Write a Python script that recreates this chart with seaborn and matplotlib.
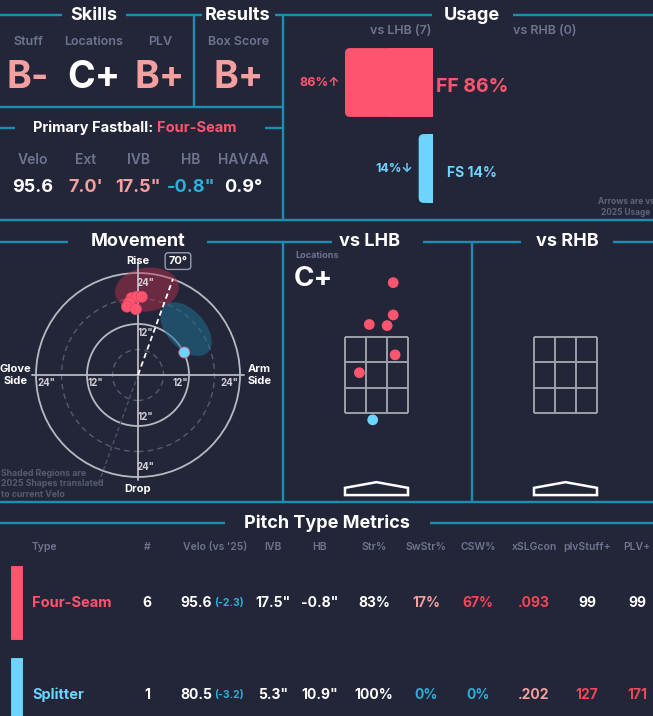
import numpy as np
import pandas as pd
import matplotlib
matplotlib.use("Agg")
import matplotlib.pyplot as plt
import seaborn as sns
from matplotlib.patches import Ellipse, Rectangle, Polygon, Circle, FancyBboxPatch

# ---- data ----
skill_labels = ["Stuff", "Locations", "PLV"]
skill_grades = ["B-", "C+", "B+"]
result_label = "Box Score"
result_grade = "B+"

fb_name = "Four-Seam"
fb_labels = ["Velo", "Ext", "IVB", "HB", "HAVAA"]
fb_values = ["95.6", "7.0'", '17.5"', '-0.8"', "0.9°"]

usage_pitches = ["FF", "FS"]
usage_lhb = [86, 14]
usage_arrows = ["↑", "↓"]
n_lhb, n_rhb = 7, 0

ff_hb = [-1.5, -0.3, 0.9, -2.1, -2.6, -0.5]
ff_ivb = [18.1, 18.4, 18.4, 17.0, 16.1, 15.5]
fs_hb = [10.9]
fs_ivb = [5.3]
arm_angle = 70

# 2025 shapes (ellipses) per pitch: center, width, height, angle
shape_hb = [2.1, 11.3]
shape_ivb = [20.1, 10.8]
shape_w = [15.1, 15.0]
shape_h = [10.3, 9.0]
shape_angle = [8, -48]

loc_pitch = ["FF"] * 6 + ["FS"]
loc_x = [0.44, 0.44, -0.19, 0.28, 0.49, -0.45, -0.10]
loc_z = [4.93, 4.08, 3.83, 3.80, 3.03, 2.56, 1.32]
location_grade = "C+"

table_cols = ["Type", "#", "Velo (vs '25)", "IVB", "HB", "Str%", "SwStr%",
              "CSW%", "xSLGcon", "plvStuff+", "PLV+"]
table_names = ["Four-Seam", "Splitter"]
table_count = ["6", "1"]
table_velo = ["95.6", "80.5"]
table_velo_diff = ["(-2.3)", "(-3.2)"]
table_ivb = ['17.5"', '5.3"']
table_hb = ['-0.8"', '10.9"']
table_str = ["83%", "100%"]
table_swstr = ["17%", "0%"]
table_csw = ["67%", "0%"]
table_xslg = [".093", ".202"]
table_stuff = ["99", "127"]
table_plv = ["99", "171"]

# ---- style ----
BG = "#232638"
TEAL = "#1a8fb3"
WHITE = "#ffffff"
GRAY = "#6f7590"
RED = "#ff5470"
CYAN = "#6dd3ff"
DCYAN = "#2bb0d6"
LPINK = "#f5a0a0"
BRED = "#f2475a"
LINEGRAY = "#b8b9c2"
pitch_colors = {"FF": RED, "FS": CYAN}

sns.set_theme(style="white")
plt.rcParams['font.family'] = ['Inter', 'DejaVu Sans']
plt.rcParams['axes.facecolor'] = BG

W, H = 653, 716
fig = plt.figure(figsize=(W / 100, H / 100), dpi=100, facecolor=BG)
bg = fig.add_axes([0, 0, 1, 1])
bg.set_xlim(0, W)
bg.set_ylim(H, 0)
bg.axis('off')


def px_axes(x0, y0, x1, y1):
    ax = fig.add_axes([x0 / W, 1 - y1 / H, (x1 - x0) / W, (y1 - y0) / H])
    ax.set_facecolor('none')
    ax.axis('off')
    return ax


def hline(y, x0, x1):
    bg.plot([x0, x1], [y, y], color=TEAL, lw=1.7, solid_capstyle='butt')


def vline(x, y0, y1):
    bg.plot([x, x], [y0, y1], color=TEAL, lw=1.7, solid_capstyle='butt')


def title(txt, x, y, size=13):
    bg.text(x, y, txt, color=WHITE, fontsize=size, fontweight='bold',
            ha='center', va='center')


# ---- frame lines ----
hline(15, 0, 62); hline(15, 126, 202); hline(15, 275, 432); hline(15, 513, W)
vline(194, 15, 107); vline(283, 15, 220)
hline(107, 0, 283)
hline(128, 0, 15); hline(128, 265, 283)
hline(220, 0, W)
hline(242, 0, 68); hline(242, 207, 332); hline(242, 423, 521); hline(242, 613, W)
vline(283, 242, 502); vline(472, 242, 502)
hline(502, 0, W)
hline(523, 0, 225); hline(523, 430, W)

title("Skills", 94, 15)
title("Results", 238, 15)
title("Usage", 472, 15)
title("Movement", 138, 242)
title("vs LHB", 370, 242)
title("vs RHB", 567, 242)
title("Pitch Type Metrics", 327, 523)

# ---- skills ----
for x, lab, g in zip([28, 94, 160], skill_labels, skill_grades):
    bg.text(x, 42, lab, color=GRAY, fontsize=9, fontweight='semibold', ha='center', va='center')
    bg.text(x, 78, g, color=WHITE if g.startswith("C") else LPINK, fontsize=27,
            fontweight='bold', ha='center', va='center')
bg.text(239, 42, result_label, color=GRAY, fontsize=9, fontweight='semibold', ha='center', va='center')
bg.text(239, 78, result_grade, color=LPINK, fontsize=27, fontweight='bold', ha='center', va='center')

# ---- primary fastball ----
bg.text(153, 128, "Primary Fastball:", color=WHITE, fontsize=10.5, fontweight='bold', ha='right', va='center')
bg.text(157, 128, fb_name, color=RED, fontsize=10.5, fontweight='bold', ha='left', va='center')
fb_colors = [WHITE, LPINK, LPINK, DCYAN, WHITE]
for x, lab, v, c in zip([33, 86, 138, 191, 243], fb_labels, fb_values, fb_colors):
    bg.text(x, 160, lab, color=GRAY, fontsize=10, fontweight='semibold', ha='center', va='center')
    bg.text(x, 188, v, color=c, fontsize=13, fontweight='bold', ha='center', va='center')

# ---- usage ----
usage_df = pd.DataFrame({"pitch": usage_pitches, "usage": usage_lhb})
ax_u = px_axes(290, 30, 433, 215)
sns.barplot(data=usage_df, x="usage", y="pitch", hue="pitch", palette=pitch_colors,
            orient="h", width=0.8, saturation=1, legend=False, ax=ax_u)
XS, YS = 1.0233, 86.0  # px per data unit
ax_u.set_xlim((433 - 290) / XS, 0)
ax_u.set_ylim((215 - 82.5) / YS, (30 - 82.5) / YS)
ax_u.axis('off')
# round the outer (left) corners of the bars
for bar in list(ax_u.patches):
    x0, y0, w, h = bar.get_x(), bar.get_y(), bar.get_width(), bar.get_height()
    fc = bar.get_facecolor()
    bar.remove()
    ax_u.add_patch(FancyBboxPatch((x0, y0), w, h, boxstyle="round,pad=0,rounding_size=%.2f" % (5 / XS),
                                  mutation_aspect=XS / YS, fc=fc, ec='none'))
    ax_u.add_patch(Rectangle((x0, y0), w / 2, h, fc=fc, ec='none'))
label_sizes = [14, 10]
for i, (p, u, a) in enumerate(zip(usage_pitches, usage_lhb, usage_arrows)):
    c = pitch_colors[p]
    ax_u.text(u + 5, i, f"{u}%{a}", color=c, fontsize=9, fontweight='bold',
              ha='right', va='center', clip_on=False)
    ax_u.text(-38, i + 0.05, f"{p} {u}%", color=c, fontsize=label_sizes[i],
              fontweight='bold', ha='center', va='center', clip_on=False)
bg.text(401, 31, f"vs LHB ({n_lhb})", color=GRAY, fontsize=9, fontweight='semibold', ha='center', va='center')
bg.text(545, 31, f"vs RHB ({n_rhb})", color=GRAY, fontsize=9, fontweight='semibold', ha='center', va='center')
bg.text(626, 207, "Arrows are vs\n2025 Usage", color="#5f6478", fontsize=6, fontweight='bold',
        ha='center', va='center', multialignment='center', linespacing=1.3)

# ---- movement ----
S = 4.25
ax_m = px_axes(0, 250, 283, 500)
ax_m.set_xlim(-138 / S, (283 - 138) / S)
ax_m.set_ylim(-125 / S, 125 / S)
for r, solid in [(6, False), (12, True), (18, False), (24, True)]:
    ax_m.add_patch(Circle((0, 0), r, fill=False, lw=1.3 if solid else 1.0,
                          ec=LINEGRAY if solid else "#575b6e", ls='-' if solid else (0, (4, 3))))
ax_m.plot([-25, 25], [0, 0], color=LINEGRAY, lw=1.3)
ax_m.plot([0, 0], [-24.8, 26.5], color=LINEGRAY, lw=1.3)
for i, p in enumerate(usage_pitches):
    ax_m.add_patch(Ellipse((shape_hb[i], shape_ivb[i]), shape_w[i], shape_h[i], angle=shape_angle[i],
                           fc=["#c0304f", "#1e6f8f"][i], alpha=[0.45, 0.55][i], ec='none', zorder=1))
ang = np.radians(arm_angle)
ax_m.plot([0, 24 * np.cos(ang)], [0, 24 * np.sin(ang)], color=WHITE, lw=1.3, ls=(0, (3, 2)), zorder=3)
ax_m.plot([0, -27 * np.cos(ang)], [0, -27 * np.sin(ang)], color="#4f5366", lw=1.0, ls=(0, (3, 2)), zorder=1)
ax_m.text(9.4, 26.8, f"{arm_angle}°", color=WHITE, fontsize=8, fontweight='bold', ha='center', va='center',
          bbox=dict(boxstyle="round,pad=0.3,rounding_size=0.3", fc=BG, ec="#9a9cab", lw=1.0))
mv = pd.DataFrame({"hb": ff_hb + fs_hb, "ivb": ff_ivb + fs_ivb,
                   "pitch": ["FF"] * len(ff_hb) + ["FS"] * len(fs_hb)})
sns.scatterplot(data=mv, x="hb", y="ivb", hue="pitch", palette=pitch_colors, s=65,
                edgecolor="#d9455f", linewidth=0.5, legend=False, ax=ax_m, zorder=4)
ax_m.axis('off')
for v in [12, 24]:
    vv = 10 if v == 12 else 21.6
    for sgn in [-1, 1]:
        ax_m.text(sgn * vv, -2.0, f'{v}"', color="#d0d0d6", fontsize=7, fontweight='bold', ha='center', va='center')
        ax_m.text(1.8, sgn * vv, f'{v}"', color="#d0d0d6", fontsize=7, fontweight='bold', ha='center', va='center')
ax_m.text(0, 26.9, "Rise", color=WHITE, fontsize=8, fontweight='bold', ha='center', va='center')
ax_m.text(0, -26.8, "Drop", color=WHITE, fontsize=8, fontweight='bold', ha='center', va='center')
ax_m.text(-28.8, 0, "Glove\nSide", color=WHITE, fontsize=8, fontweight='bold', ha='center', va='center', linespacing=1.2)
ax_m.text(28.5, 0, "Arm\nSide", color=WHITE, fontsize=8, fontweight='bold', ha='center', va='center', linespacing=1.2)
bg.text(1, 484, "Shaded Regions are\n2025 Shapes translated\nto current Velo", color="#565b6e",
        fontsize=6.3, fontweight='bold', ha='left', va='center', linespacing=1.25)

# ---- locations ----
P = 38.0


def loc_axes(x0, x1, cx):
    ax = px_axes(x0, 250, x1, 500)
    ax.set_xlim((x0 - cx) / P, (x1 - cx) / P)
    ax.set_ylim(3.5 - (500 - 337) / P, 3.5 + (337 - 250) / P)
    zx = np.linspace(-0.829, 0.829, 4)
    zz = np.linspace(1.5, 3.5, 4)
    for x in zx:
        ax.plot([x, x], [1.5, 3.5], color="#9d9fa9", lw=1.4, solid_capstyle='butt')
    for z in zz:
        ax.plot([-0.829, 0.829], [z, z], color="#9d9fa9", lw=1.4, solid_capstyle='butt')
    ax.add_patch(Polygon([(-0.829, -0.66), (0.829, -0.66), (0.829, -0.47), (0, -0.32), (-0.829, -0.47)],
                         closed=True, fill=False, ec=WHITE, lw=1.8))
    ax.axis('off')
    return ax


ax_l = loc_axes(285, 470, 376.5)
ax_r = loc_axes(474, 653, 565.5)
locs = pd.DataFrame({"x": loc_x, "z": loc_z, "pitch": loc_pitch})
sns.scatterplot(data=locs, x="x", y="z", hue="pitch", palette=pitch_colors, s=60,
                edgecolor='none', legend=False, ax=ax_l, zorder=4)
ax_l.axis('off')
bg.text(295, 256, "Locations", color=GRAY, fontsize=6.5, fontweight='bold', ha='left', va='center')
bg.text(294, 279, location_grade, color=WHITE, fontsize=20, fontweight='bold', ha='left', va='center')

# ---- table ----
col_x = [32, 147, 215, 273, 320, 374, 426, 478, 534, 587, 637]
for x, c in zip(col_x, table_cols):
    bg.text(x, 547, c, color=GRAY, fontsize=7.5, fontweight='semibold',
            ha='left' if c == "Type" else 'center', va='center')
row_y = [603, 695]
name_col = [RED, CYAN]
swstr_col = [LPINK, DCYAN]
csw_col = [BRED, DCYAN]
xslg_col = [BRED, LPINK]
stuff_col = [WHITE, BRED]
plv_col = [WHITE, BRED]
bg.add_patch(Rectangle((10, 565), 13, 75, fc=RED, ec=BG, lw=0.8))
bg.add_patch(Rectangle((10, 657), 13, 70, fc=CYAN, ec=BG, lw=0.8))
for i, y in enumerate(row_y):
    bg.text(32, y, table_names[i], color=name_col[i], fontsize=10.5, fontweight='bold', ha='left', va='center')
    cells = [(147, table_count[i], WHITE), (273, table_ivb[i], WHITE), (320, table_hb[i], WHITE),
             (374, table_str[i], WHITE), (426, table_swstr[i], swstr_col[i]), (478, table_csw[i], csw_col[i]),
             (534, table_xslg[i], xslg_col[i]), (587, table_stuff[i], stuff_col[i]),
             (637, table_plv[i], plv_col[i])]
    for x, t, c in cells:
        bg.text(x, y, t, color=c, fontsize=10, fontweight='bold', ha='center', va='center')
    bg.text(212, y, table_velo[i], color=WHITE, fontsize=10, fontweight='bold', ha='right', va='center')
    bg.text(214, y, table_velo_diff[i], color=DCYAN, fontsize=7.5, fontweight='bold', ha='left', va='center')

fig.savefig("out.png", dpi=100, facecolor=BG)
